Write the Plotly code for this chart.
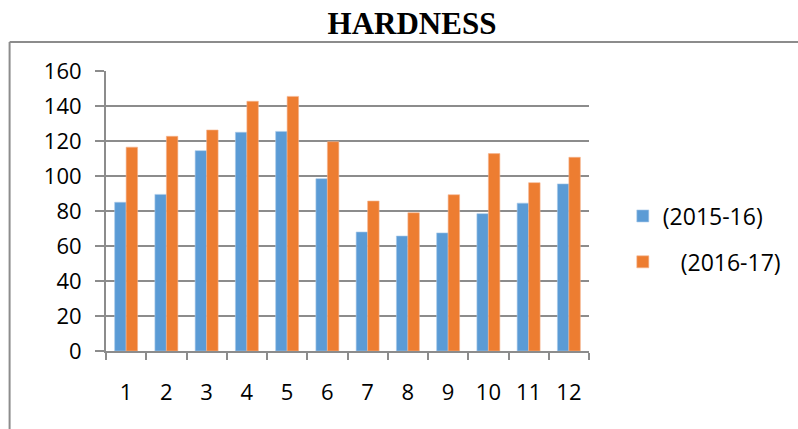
import plotly.graph_objects as go

# Monthly hardness readings for two seasons
months = ["1", "2", "3", "4", "5", "6", "7", "8", "9", "10", "11", "12"]
hardness_2015_16 = [85, 89.5, 114.5, 125, 125.5, 98.5, 68, 65.7, 67.5, 78.5, 84.5, 95.5]
hardness_2016_17 = [116.5, 122.7, 126.3, 142.7, 145.5, 119.6, 85.7, 79, 89.3, 112.8, 96.2, 110.7]
series_names = ["(2015-16)", "   (2016-17)"]
y_ticks = [0, 20, 40, 60, 80, 100, 120, 140, 160]

BLUE = "#5B9BD5"
ORANGE = "#ED7D31"
GRID = "#8C8C8C"
TEXT_FONT = "Open Sans"

fig = go.Figure()
fig.add_trace(go.Bar(
    x=months, y=hardness_2015_16, name=series_names[0],
    marker=dict(color=BLUE, line=dict(color="#A9C9EA", width=0.6)),
    legendgroup="a",
))
fig.add_trace(go.Bar(
    x=months, y=hardness_2016_17, name=series_names[1],
    marker=dict(color=ORANGE, line=dict(color="#F5B590", width=0.6)),
    legendgroup="b",
))

fig.update_layout(
    width=798, height=429,
    margin=dict(l=106, r=201, t=71, b=78),
    paper_bgcolor="white", plot_bgcolor="white",
    barmode="group", bargap=0.43, bargroupgap=0,
    title=dict(
        text="<b>HARDNESS</b>",
        x=412 / 798, xanchor="center", xref="container",
        y=1 - 23 / 429, yanchor="middle", yref="container",
        font=dict(family="Liberation Serif", size=31, color="black"),
    ),
    showlegend=True,
    legend=dict(
        x=1.07, xanchor="left", y=0.4, yanchor="middle",
        traceorder="grouped", tracegroupgap=13,
        font=dict(family=TEXT_FONT, size=23, color="black"),
        bgcolor="rgba(0,0,0,0)",
    ),
    font=dict(family=TEXT_FONT, color="black"),
)

fig.update_xaxes(
    type="category",
    showline=True, linecolor=GRID, linewidth=2,
    ticks="outside", tickson="boundaries", ticklen=7, tickcolor=GRID, tickwidth=1.5,
    showgrid=False,
    tickfont=dict(family=TEXT_FONT, size=22, color="black"),
    ticklabelstandoff=21,
)
fig.update_yaxes(
    range=[0, 160], tickvals=y_ticks,
    showline=True, linecolor=GRID, linewidth=2,
    showgrid=True, gridcolor=GRID, gridwidth=1.5,
    ticks="outside", ticklen=9, tickcolor=GRID, tickwidth=1.5,
    tickfont=dict(family=TEXT_FONT, size=22, color="black"),
    ticklabelstandoff=9,
    zeroline=False,
)

# Outer chart frame (left and top edges)
fig.add_shape(type="line", xref="paper", yref="paper",
              x0=(8 - 106) / 491, x1=(8 - 106) / 491,
              y0=(351 - 440) / 280, y1=(351 - 42) / 280,
              line=dict(color=GRID, width=2))
fig.add_shape(type="line", xref="paper", yref="paper",
              x0=(8 - 106) / 491, x1=(810 - 106) / 491,
              y0=(351 - 42) / 280, y1=(351 - 42) / 280,
              line=dict(color=GRID, width=2))

fig.write_html("out.html")
